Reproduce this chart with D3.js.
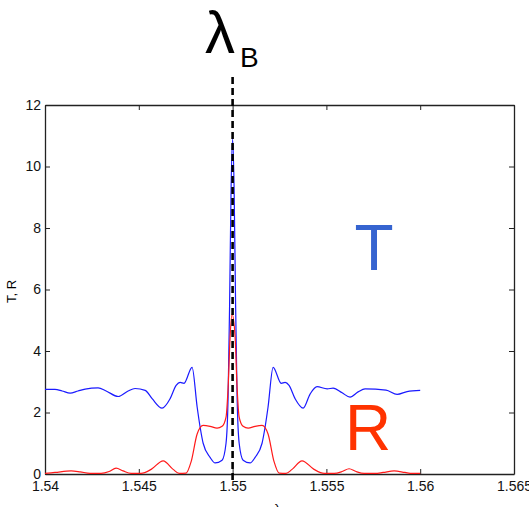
<!DOCTYPE html>
<html>
<head>
<meta charset="utf-8">
<script src="https://cdn.jsdelivr.net/npm/d3@7"></script>
<style>
  body { margin: 0; background: #fff; }
  .axis text { font-family: "Liberation Sans", Arial, sans-serif; font-size: 14px; fill: #111; }
  .axis path, .axis line { stroke: #222; }
</style>
</head>
<body>
<div id="chart"></div>
<script>
// wavelength samples and transmission T
var lambdaT = [1.54000, 1.54053, 1.54091, 1.54134, 1.54176, 1.54214, 1.54283, 1.54326, 1.54390, 1.54443,
  1.54480, 1.54534, 1.54571, 1.54624, 1.54667, 1.54699, 1.54720, 1.54741, 1.54784, 1.54811,
  1.54827, 1.54843, 1.54880, 1.54907, 1.54944, 1.54965, 1.54976, 1.54984, 1.54992, 1.55000,
  1.55008, 1.55016, 1.55024, 1.55035, 1.55056, 1.55093, 1.55120, 1.55157, 1.55173, 1.55189,
  1.55216, 1.55259, 1.55280, 1.55301, 1.55333, 1.55376, 1.55413, 1.55450, 1.55504, 1.55536,
  1.55584, 1.55626, 1.55669, 1.55706, 1.55818, 1.55877, 1.55930, 1.56000]
var valuesT = [2.75, 2.75, 2.70, 2.63, 2.70, 2.76, 2.80, 2.70, 2.52, 2.70,
  2.78, 2.72, 2.45, 2.14, 2.45, 2.88, 2.98, 2.95, 3.47, 2.18,
  1.52, 1.00, 0.54, 0.36, 0.45, 1.00, 2.50, 5.50, 9.30, 10.90,
  9.30, 5.50, 2.50, 1.00, 0.45, 0.36, 0.54, 1.00, 1.52, 2.18,
  3.47, 2.95, 2.98, 2.88, 2.45, 2.14, 2.60, 2.84, 2.77, 2.79,
  2.64, 2.50, 2.67, 2.77, 2.73, 2.59, 2.68, 2.72]

// wavelength samples and reflection R
var lambdaR = [1.54000, 1.54053, 1.54139, 1.54187, 1.54240, 1.54299, 1.54342, 1.54379, 1.54416, 1.54459,
  1.54512, 1.54566, 1.54630, 1.54683, 1.54715, 1.54752, 1.54779, 1.54811, 1.54843, 1.54880,
  1.54917, 1.54944, 1.54965, 1.54976, 1.54987, 1.54997, 1.55013, 1.55024, 1.55035, 1.55056,
  1.55083, 1.55120, 1.55157, 1.55189, 1.55221, 1.55248, 1.55285, 1.55317, 1.55370, 1.55434,
  1.55488, 1.55541, 1.55584, 1.55621, 1.55658, 1.55701, 1.55760, 1.55802, 1.55861, 1.55919,
  1.55957, 1.56000]
var valuesR = [0.02, 0.05, 0.10, 0.07, 0.02, 0.02, 0.08, 0.19, 0.10, 0.02,
  0.02, 0.15, 0.43, 0.15, 0.02, 0.03, 0.40, 1.30, 1.58, 1.55,
  1.49, 1.55, 1.85, 2.80, 4.50, 5.20, 4.50, 2.80, 1.85, 1.55,
  1.49, 1.55, 1.58, 1.30, 0.40, 0.03, 0.02, 0.15, 0.43, 0.15,
  0.02, 0.02, 0.08, 0.17, 0.08, 0.02, 0.02, 0.05, 0.10, 0.05,
  0.02, 0.02]

var xTicks = [1.54, 1.545, 1.55, 1.555, 1.56, 1.565]
var yTicks = [0, 2, 4, 6, 8, 10, 12]
var lambdaB = 1.55

var width = 529, height = 507
var plot = {left: 45, right: 514, top: 105, bottom: 474}

var svg = d3.select("#chart").append("svg")
    .attr("width", width)
    .attr("height", height)

var x = d3.scaleLinear().domain([1.54, 1.565]).range([plot.left, plot.right])
var y = d3.scaleLinear().domain([0, 12]).range([plot.bottom, plot.top])

// box with inward ticks, matlab style
svg.append("g")
    .attr("class", "axis")
    .attr("transform", "translate(0," + plot.bottom + ")")
    .call(d3.axisBottom(x).tickValues(xTicks).tickFormat(d => String(d))
        .tickSizeInner(-5).tickSizeOuter(0).tickPadding(7))
svg.append("g")
    .attr("class", "axis")
    .attr("transform", "translate(0," + plot.top + ")")
    .call(d3.axisTop(x).tickValues(xTicks).tickFormat("")
        .tickSizeInner(-5).tickSizeOuter(0))
svg.append("g")
    .attr("class", "axis")
    .attr("transform", "translate(" + plot.left + ",0)")
    .call(d3.axisLeft(y).tickValues(yTicks).tickFormat(d => String(d))
        .tickSizeInner(-5).tickSizeOuter(0).tickPadding(4))
svg.append("g")
    .attr("class", "axis")
    .attr("transform", "translate(" + plot.right + ",0)")
    .call(d3.axisRight(y).tickValues(yTicks).tickFormat("")
        .tickSizeInner(-5).tickSizeOuter(0))

svg.selectAll(".axis .domain").attr("stroke-width", 1.3)

// axis labels
svg.append("text")
    .attr("transform", "translate(16," + ((plot.top + plot.bottom) / 2 + 2) + ") rotate(-90)")
    .attr("text-anchor", "middle")
    .style("font-family", "Liberation Sans, Arial, sans-serif")
    .style("font-size", "13px")
    .text("T, R")

svg.append("text")
    .attr("x", (plot.left + plot.right) / 2 - 2)
    .attr("y", 513)
    .attr("text-anchor", "middle")
    .style("font-family", "Liberation Sans, Arial, sans-serif")
    .style("font-size", "13px")
    .text("λ")

var line = d3.line()
    .x(d => x(d[0]))
    .y(d => y(d[1]))
    .curve(d3.curveMonotoneX)

var dataT = d3.zip(lambdaT, valuesT)
var dataR = d3.zip(lambdaR, valuesR)

svg.append("path")
    .datum(dataT)
    .attr("fill", "none")
    .attr("stroke", "#1a1aff")
    .attr("stroke-width", 1.2)
    .attr("d", line)

svg.append("path")
    .datum(dataR)
    .attr("fill", "none")
    .attr("stroke", "#ff1a1a")
    .attr("stroke-width", 1.2)
    .attr("d", line)

// bragg wavelength marker
svg.append("line")
    .attr("x1", x(lambdaB)).attr("x2", x(lambdaB))
    .attr("y1", 77).attr("y2", 482)
    .attr("stroke", "#000")
    .attr("stroke-width", 2.6)
    .attr("stroke-dasharray", "7,4")

svg.append("text")
    .attr("x", 205)
    .attr("y", 53)
    .style("font-family", "Liberation Sans, Arial, sans-serif")
    .style("font-size", "60px")
    .text("λ")
svg.append("text")
    .attr("x", 240)
    .attr("y", 67)
    .style("font-family", "Liberation Sans, Arial, sans-serif")
    .style("font-size", "28px")
    .text("B")

// curve labels
svg.append("text")
    .attr("x", 374)
    .attr("y", 270)
    .attr("text-anchor", "middle")
    .attr("fill", "#3664d0")
    .style("font-family", "Liberation Sans, Arial, sans-serif")
    .style("font-size", "64px")
    .text("T")
svg.append("text")
    .attr("x", 368)
    .attr("y", 450)
    .attr("text-anchor", "middle")
    .attr("fill", "#ff3300")
    .style("font-family", "Liberation Sans, Arial, sans-serif")
    .style("font-size", "64px")
    .text("R")
</script>
</body>
</html>
